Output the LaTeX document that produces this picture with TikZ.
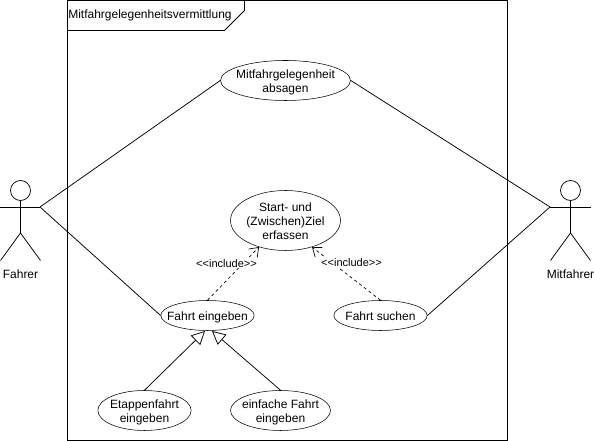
\documentclass[tikz,border=0pt]{standalone}
\usepackage{fontspec}
\setmainfont{Liberation Sans}
\usetikzlibrary{arrows.meta,shapes.geometric}
\newcommand{\ucfirst}{\rule{0pt}{8.7pt}}
\newcommand{\uclast}{\rule[-1.9pt]{0pt}{1.9pt}}
\tikzset{
  usecase/.style={draw=black,fill=white,ellipse,inner sep=-15pt,align=center,font=\fontsize{9}{10.5}\selectfont},
  assoc/.style={draw=black,line width=0.56pt},
  incl/.style={draw=black,line width=0.5pt,dash pattern=on 2.25pt off 2.25pt,-{Straight Barb[length=6pt,width=9pt,line width=0.5pt]}},
  gen/.style={draw=black,line width=0.56pt,-{Triangle[open,fill=white,length=10pt,width=10pt,line width=0.56pt]}},
  inclabel/.style={fill=white,inner sep=0.5pt,font=\fontsize{8.25}{9}\selectfont},
  actorlabel/.style={inner sep=0pt,font=\fontsize{9}{10.5}\selectfont},
  framelabel/.style={inner sep=0pt,anchor=west,font=\fontsize{9}{10.5}\selectfont},
  stick/.style={draw=black,line width=0.56pt}
}
\begin{document}
\begin{tikzpicture}[x=0.75pt,y=-0.75pt]
\useasboundingbox (0,0) rectangle (594,441);
\fill[white] (0,0) rectangle (594,441);
% frame
\draw[stick] (67.5,0.5) rectangle (507.5,440.5);
\draw[stick] (67.5,30.5) -- (224.5,30.5) -- (244.5,10.5) -- (244.5,0.5);
\node[framelabel] (title) at (68,15) {Mitfahrgelegenheitsvermittlung};
% actors
\coordinate (fl) at (40,207);
\coordinate (ml) at (550,207);
\node[draw=black,line width=0.56pt,circle,minimum size=15pt,inner sep=0pt] (fh) at (20.5,190.5) {};
\coordinate (fhip) at (20.5,233);
\draw[stick] (fh.south) -- (fhip);
\draw[stick] (0.5,207) -- (fl);
\draw[stick] (0.5,260.5) -- (fhip) -- (40.5,260.5);
\node[actorlabel] (flabel) at (20.5,274.5) {Fahrer};
\node[draw=black,line width=0.56pt,circle,minimum size=15pt,inner sep=0pt] (mh) at (570.5,190.5) {};
\coordinate (mhip) at (570.5,233);
\draw[stick] (mh.south) -- (mhip);
\draw[stick] (ml) -- (590.5,207);
\draw[stick] (550.5,260.5) -- (mhip) -- (590.5,260.5);
\node[actorlabel] (mlabel) at (570.5,274.5) {Mitfahrer};
% use cases
\node[usecase,minimum width=97.5pt,minimum height=30pt] (abs) at (285.5,80.5) {\ucfirst Mitfahrgelegenheit\\absagen\uclast};
\node[usecase,minimum width=82.5pt,minimum height=45pt] (start) at (285.5,220.5) {\ucfirst Start- und\\(Zwischen)Ziel\\erfassen\uclast};
\node[usecase,minimum width=70pt,minimum height=22.5pt] (fe) at (207.5,315.5) {\ucfirst Fahrt eingeben\uclast};
\node[usecase,minimum width=70pt,minimum height=22.5pt] (fs) at (380.5,315.5) {\ucfirst Fahrt suchen\uclast};
\node[usecase,minimum width=70pt,minimum height=30pt] (ee) at (144.5,410.5) {\ucfirst Etappenfahrt\\eingeben\uclast};
\node[usecase,minimum width=75pt,minimum height=30pt] (ef) at (280.5,410.5) {\ucfirst einfache Fahrt\\eingeben\uclast};
% associations
\draw[assoc] (fl) -- (abs.west);
\draw[assoc] (fl) -- (fe.west);
\draw[assoc] (ml) -- (abs.east);
\draw[assoc] (ml) -- (fs.east);
% includes
\draw[incl] (fe.north) -- (start.225);
\draw[incl] (fs.north) -- (start.315);
\node[inclabel] (i1) at (226.5,263.5) {<{}<include>{}>};
\node[inclabel] (i2) at (351.5,262.5) {<{}<include>{}>};
% generalizations
\draw[gen] (ee.north) -- (205,331);
\draw[gen] (ef.north) -- (212,331);
\end{tikzpicture}
\end{document}
